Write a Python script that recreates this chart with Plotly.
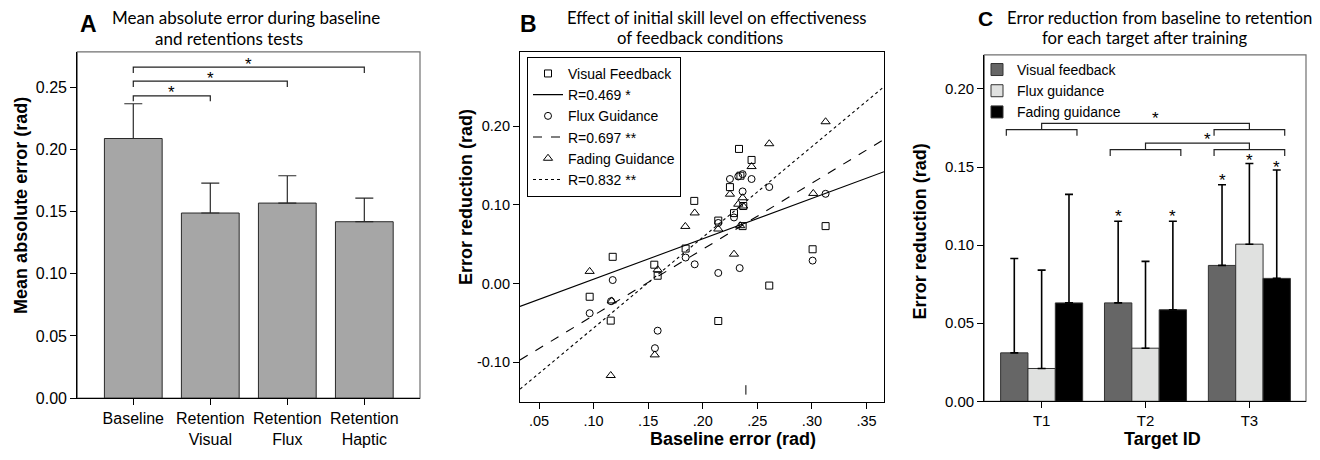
import plotly.graph_objects as go

# ---------------- Panel A data ----------------
a_categories = ["Baseline", "Retention<br>Visual", "Retention<br>Flux", "Retention<br>Haptic"]
a_means = [0.209, 0.149, 0.157, 0.142]
a_err_up = [0.028, 0.024, 0.022, 0.019]
# significance brackets: (from category, to category, bar height, leg end)
a_brackets = [(0, 1, 0.2433, 0.2390), (0, 2, 0.2552, 0.2505), (0, 3, 0.2665, 0.2618)]
a_star_y = [0.2494, 0.2604, 0.2717]

# ---------------- Panel B data ----------------
vis_x = [0.0964, 0.1175, 0.1157, 0.1556, 0.1587, 0.1843, 0.1922, 0.2142, 0.2142, 0.2249,
         0.2286, 0.2332, 0.2365, 0.2447, 0.2371, 0.2609, 0.3006, 0.3125, 0.2345]
vis_y = [-0.0167, 0.0340, -0.0470, 0.0240, 0.0100, 0.0445, 0.1050, 0.0800, -0.0475, 0.1225,
         0.0895, 0.1710, 0.0730, 0.1570, 0.0985, -0.0025, 0.0436, 0.0730, 0.1370]
flux_x = [0.0964, 0.1175, 0.1160, 0.1587, 0.1562, 0.1843, 0.1926, 0.2142, 0.2142, 0.2286,
          0.2338, 0.2249, 0.2325, 0.2365, 0.2447, 0.2365, 0.2609, 0.3006, 0.3125]
flux_y = [-0.0376, 0.0045, -0.0224, -0.0598, -0.0820, 0.0331, 0.0245, 0.0135, 0.0770, 0.0840,
          0.0197, 0.1328, 0.1360, 0.1390, 0.1328, 0.1170, 0.1226, 0.0292, 0.1140]
fad_x = [0.0964, 0.1166, 0.1157, 0.1560, 0.1587, 0.1840, 0.1926, 0.2142, 0.2286, 0.2343,
         0.2249, 0.2325, 0.2370, 0.2365, 0.2447, 0.2609, 0.3012, 0.3125]
fad_y = [0.0155, -0.0220, -0.1167, -0.0905, 0.0176, 0.0726, 0.0897, 0.0693, 0.0374, 0.0735,
         0.1135, 0.1008, 0.0985, 0.1090, 0.1486, 0.1776, 0.1145, 0.2055]
fit_x = [0.0326, 0.366]
vis_fit = [-0.029, 0.142]
flux_fit = [-0.097, 0.183]
fad_fit = [-0.134, 0.250]
b_names = ["Visual Feedback", "Flux Guidance", "Fading Guidance"]
b_r_labels = ["R=0.469 *", "R=0.697 **", "R=0.832 **"]
b_xticks = [0.05, 0.10, 0.15, 0.20, 0.25, 0.30, 0.35]
b_xticktext = [".05", ".10", ".15", ".20", ".25", ".30", ".35"]
b_yticks = [-0.10, 0.00, 0.10, 0.20]
b_yticktext = ["-0.10", "0.00", "0.10", "0.20"]
stray_x = [0.2395, 0.2395]
stray_y = [-0.129, -0.141]

# ---------------- Panel C data ----------------
c_targets = ["T1", "T2", "T3"]
c_names = ["Visual feedback", "Flux guidance", "Fading guidance"]
c_visual = [0.031, 0.063, 0.087]
c_flux = [0.021, 0.034, 0.1006]
c_fading = [0.063, 0.0586, 0.0787]
c_visual_err = [0.0604, 0.0523, 0.0517]
c_flux_err = [0.0630, 0.0556, 0.0517]
c_fading_err = [0.0695, 0.0567, 0.0694]
# stars above bars: (target index, series index, y)
c_stars = [(1, 0, 0.121), (1, 2, 0.121), (2, 0, 0.144), (2, 1, 0.1565), (2, 2, 0.1523)]
# group brackets: (group a, group b, bracket height, leg end, connector height, star y)
c_brackets = [(0, 2, 0.1739, 0.1701, 0.1780, 0.1837), (1, 2, 0.1611, 0.1570, 0.1653, 0.1705)]

W, H = 1320, 460
BASE = "Liberation Sans"
TITLE_FONT = "Lato"

fig = go.Figure()

# ---- A bars ----
fig.add_trace(go.Bar(
    x=list(range(len(a_means))), y=a_means, width=0.75,
    marker=dict(color="#a6a6a6", line=dict(color="#2a2a2a", width=1)),
    error_y=dict(type="data", symmetric=False, array=a_err_up, arrayminus=[0] * len(a_means),
                 color="#2a2a2a", thickness=1.2, width=9),
    showlegend=False, xaxis="x", yaxis="y"))

# ---- B scatter ----
sym = ["square-open", "circle-open", "triangle-up-open"]
sizes = [7, 7, 8]
xs = [vis_x, flux_x, fad_x]
ys = [vis_y, flux_y, fad_y]
fits = [vis_fit, flux_fit, fad_fit]
dashes = ["solid", "dash", "dot"]
for i in range(3):
    fig.add_trace(go.Scatter(
        x=xs[i], y=ys[i], mode="markers", name=b_names[i],
        marker=dict(symbol=sym[i], size=sizes[i], color="black", line=dict(width=1, color="black")),
        xaxis="x2", yaxis="y2", legend="legend2"))
    fig.add_trace(go.Scatter(
        x=fit_x, y=fits[i], mode="lines", name=b_r_labels[i],
        line=dict(color="black", width=1.1, dash=dashes[i]),
        xaxis="x2", yaxis="y2", legend="legend2"))
fig.add_trace(go.Scatter(x=stray_x, y=stray_y, mode="lines", line=dict(color="black", width=1),
                         showlegend=False, xaxis="x2", yaxis="y2"))

# ---- C bars ----
c_vals = [c_visual, c_flux, c_fading]
c_errs = [c_visual_err, c_flux_err, c_fading_err]
c_cols = ["#666666", "#e0e1e0", "#000000"]
for i in range(3):
    fig.add_trace(go.Bar(
        x=list(range(3)), y=c_vals[i], name=c_names[i],
        marker=dict(color=c_cols[i], line=dict(color="#333333", width=1)),
        error_y=dict(type="data", symmetric=False, array=c_errs[i], arrayminus=[0, 0, 0],
                     color="black", thickness=1.6, width=4),
        xaxis="x3", yaxis="y3", legend="legend3"))

shapes = []
annotations = []

# ---- A brackets & stars ----
for (i0, i1, yh, yl), sy in zip(a_brackets, a_star_y):
    shapes.append(dict(type="path", xref="x", yref="y",
                       path=f"M {i0},{yl} L {i0},{yh} L {i1},{yh} L {i1},{yl}",
                       line=dict(color="#222222", width=1.2)))
    annotations.append(dict(x=(i0 + i1) / 2, y=sy, xref="x", yref="y", text="*", showarrow=False,
                            font=dict(family=BASE, size=17, color="black"), yshift=-4))

# ---- C brackets & stars ----
grp_w = 0.79
off = [-grp_w / 3, 0, grp_w / 3]
for (ga, gb, yh, yl, yc, sy) in c_brackets:
    for g in (ga, gb):
        shapes.append(dict(type="path", xref="x3", yref="y3",
                           path=f"M {g-0.34},{yl} L {g-0.34},{yh} L {g+0.34},{yh} L {g+0.34},{yl}",
                           line=dict(color="#222222", width=1.2)))
    shapes.append(dict(type="path", xref="x3", yref="y3",
                       path=f"M {ga},{yh} L {ga},{yc} L {gb},{yc} L {gb},{yh}",
                       line=dict(color="#222222", width=1.2)))
    annotations.append(dict(x=(ga + gb) / 2 + 0.1, y=sy, xref="x3", yref="y3", text="*", showarrow=False,
                            font=dict(family=BASE, size=17, color="black"), yshift=-4))
for (g, s, y) in c_stars:
    annotations.append(dict(x=g + off[s], y=y, xref="x3", yref="y3", text="*", showarrow=False,
                            font=dict(family=BASE, size=17, color="black"), yshift=-4))

# frames (grey top/right for A and C)
for ax in ("x", "x3"):
    yax = "y" if ax == "x" else "y3"
    shapes.append(dict(type="rect", xref=f"{ax} domain", yref=f"{yax} domain", x0=0, x1=1, y0=0, y1=1,
                       line=dict(color="#707070", width=1.2), layer="below"))


def px(xp):
    return xp / W


def py(yp):
    return 1 - yp / H


def text(x, y, s, size, family=TITLE_FONT, bold=False, angle=0):
    annotations.append(dict(x=px(x), y=py(y), xref="paper", yref="paper", text=f"<b>{s}</b>" if bold else s,
                            showarrow=False, textangle=angle, xanchor="center", yanchor="middle",
                            font=dict(family=family, size=size, color="black")))


# titles
text(246, 18, "Mean absolute error during baseline", 17)
text(229, 39, "and retentions tests", 17)
text(717, 18, "Effect of initial skill level on effectiveness", 16.7)
text(700, 39, "of feedback conditions", 16.7)
text(1159, 18, "Error reduction from baseline to retention", 16.7)
text(1145, 39, "for each target after training", 16.7)
text(88, 24, "A", 23, BASE, True)
text(528, 24, "B", 23, BASE, True)
text(985, 19, "C", 21, BASE, True)
# axis titles
text(21, 210, "Mean absolute error (rad)", 18, BASE, True, -90)
text(466, 201, "Error reduction (rad)", 18, BASE, True, -90)
text(920, 236, "Error reduction (rad)", 18, BASE, True, -90)
text(733, 448, "Baseline error (rad)", 18, BASE, True)
text(1162, 448, "Target ID", 18, BASE, True)

axis_common = dict(showgrid=False, zeroline=False, showline=True, linecolor="black", linewidth=1.2,
                   ticks="outside", ticklen=6, tickcolor="black", tickwidth=1)

fig.update_layout(
    width=W, height=H, margin=dict(l=0, r=0, t=0, b=0),
    paper_bgcolor="white", plot_bgcolor="white",
    font=dict(family=BASE, size=15, color="black"),
    barmode="group", bargap=0.21, bargroupgap=0,
    xaxis=dict(domain=[77.3 / W, 420 / W], range=[-0.727, 3.723], tickvals=list(range(4)),
               ticktext=a_categories, tickfont=dict(size=16), anchor="y", **axis_common),
    yaxis=dict(domain=[py(406), py(53)], range=[0, 0.2787], tickvals=[0, 0.05, 0.10, 0.15, 0.20, 0.25],
               tickformat=".2f", tickfont=dict(size=16), anchor="x", **axis_common),
    xaxis2=dict(domain=[520 / W, 884 / W], range=[0.0326, 0.366], tickvals=b_xticks, ticktext=b_xticktext,
                tickfont=dict(size=14.5), anchor="y2", mirror=True, **axis_common),
    yaxis2=dict(domain=[py(410), py(53)], range=[-0.1503, 0.2941], tickvals=b_yticks, ticktext=b_yticktext,
                tickfont=dict(size=14.5), anchor="x2", mirror=True, **axis_common),
    xaxis3=dict(domain=[984.3 / W, 1306 / W], range=[-0.552, 2.545], tickvals=list(range(3)),
                ticktext=c_targets, tickfont=dict(size=15), anchor="y3", **axis_common),
    yaxis3=dict(domain=[py(409.3), py(56)], range=[0, 0.2218], tickvals=[0, 0.05, 0.10, 0.15, 0.20],
                tickformat=".2f", tickfont=dict(size=15), anchor="x3", **axis_common),
    legend2=dict(x=px(527), y=py(58), xanchor="left", yanchor="top", bgcolor="white",
                 bordercolor="black", borderwidth=1, font=dict(family=BASE, size=14),
                 traceorder="normal", tracegroupgap=0),
    legend3=dict(x=px(977), y=py(55), xanchor="left", yanchor="top", bgcolor="rgba(0,0,0,0)",
                 borderwidth=0, font=dict(family=BASE, size=14), traceorder="normal", tracegroupgap=0),
    shapes=shapes, annotations=annotations,
)

fig.write_html("out.html", config={"displayModeBar": False},
               post_script="document.body.style.margin='0';")
